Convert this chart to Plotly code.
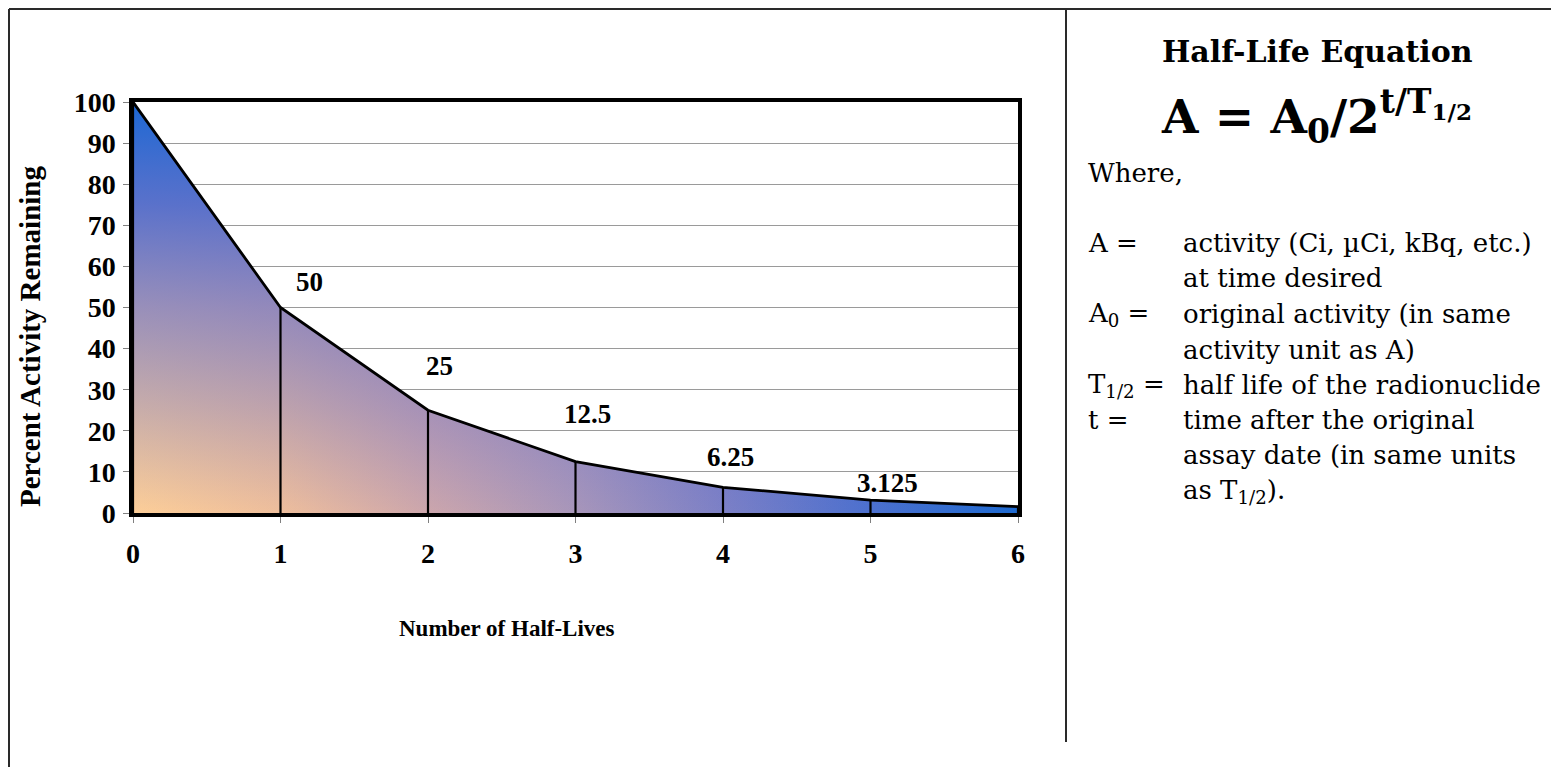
import plotly.graph_objects as go

# ---- data ----
half_lives = [0, 1, 2, 3, 4, 5, 6]
activity = [100, 50, 25, 12.5, 6.25, 3.125, 1.5625]
x_ticks = [0, 1, 2, 3, 4, 5, 6]
y_ticks = [0, 10, 20, 30, 40, 50, 60, 70, 80, 90, 100]
labelled = [1, 2, 3, 4, 5]

# ---- geometry (page shows the figure offset by the 8px body margin) ----
OFF = 8
W, H = 1559 - OFF, 767 - OFF
L, R, T, B = 133 - OFF, 1018 - OFF, 102 - OFF, 513 - OFF


def xp(sx):
    """screen pixel x -> paper"""
    return (sx - OFF - L) / (R - L)


def yp(sy):
    """screen pixel y -> paper"""
    return (B - (sy - OFF)) / (B - T)


SERIF = "Liberation Serif"
BOOK = "DejaVu Serif"

fig = go.Figure()

# base fill: horizontal gradient
fig.add_trace(go.Scatter(
    x=half_lives, y=activity, mode="lines", line=dict(width=0),
    fill="tozeroy",
    fillgradient=dict(type="horizontal", colorscale=[
        [0, "rgb(253,206,152)"], [0.167, "rgb(238,190,156)"],
        [0.333, "rgb(204,166,172)"], [0.5, "rgb(168,150,186)"],
        [0.667, "rgb(124,128,198)"], [0.833, "rgb(76,112,206)"],
        [1, "rgb(30,106,208)"]]),
    hoverinfo="skip", showlegend=False,
))
# overlay fill: vertical gradient with transparency
fig.add_trace(go.Scatter(
    x=half_lives, y=activity, mode="lines", line=dict(width=0),
    fill="tozeroy",
    fillgradient=dict(type="vertical", colorscale=[
        [0, "rgba(80,98,210,0)"], [0.25, "rgba(80,98,210,0.3)"],
        [0.5, "rgba(80,98,210,0.58)"], [0.75, "rgba(66,100,210,0.87)"],
        [1, "rgba(28,104,212,1)"]]),
    hoverinfo="skip", showlegend=False,
))
# curve + drop lines
fig.add_trace(go.Scatter(
    x=half_lives, y=activity, mode="lines",
    line=dict(color="black", width=2.8),
    error_y=dict(type="data", symmetric=False,
                 array=[0 for _ in activity], arrayminus=activity,
                 width=0, thickness=2.2, color="black"),
    showlegend=False,
))

annotations = []
shifts = {1: (29, 26), 2: (11, 44), 3: (12, 48), 4: (7, 30), 5: (17, 17)}
for xv, yv in zip(half_lives, activity):
    if xv in labelled:
        dx, dy = shifts[xv]
        annotations.append(dict(
            x=xv, y=yv, xref="x", yref="y", text=f"{yv:g}", showarrow=False,
            xanchor="center", yanchor="middle", xshift=dx, yshift=dy,
            font=dict(family=SERIF, size=27, color="black", weight="bold"),
        ))


def note(text, sx, sy, size, bold=False, family=BOOK, xanchor="left", angle=0):
    annotations.append(dict(
        x=xp(sx), y=yp(sy), xref="paper", yref="paper", text=text,
        showarrow=False, xanchor=xanchor, yanchor="middle", textangle=angle,
        font=dict(family=family, size=size, color="black",
                  weight="bold" if bold else "normal"),
    ))


# axis titles
note("Percent Activity Remaining", 30, 337, 29, True, SERIF, "center", -90)
note("Number of Half-Lives", 507, 628, 23, True, SERIF, "center")

# right panel
note("Half-Life Equation", 1317, 52, 30, True, BOOK, "center")
note("A = A<sub>0</sub>/2<sup>t/T<sub>1/2</sub></sup>", 1316, 117, 47, True, BOOK, "center")
note("Where,", 1086, 173, 26)
terms = [("A =", 243), ("A<sub>0</sub> =", 314), ("T<sub>1/2</sub> =", 385), ("t =", 420)]
defs = [
    ("activity (Ci, \u00b5Ci, kBq, etc.)", 243),
    ("at time desired", 278),
    ("original activity (in same", 314),
    ("activity unit as A)", 350),
    ("half life of the radionuclide", 385),
    ("time after the original", 420),
    ("assay date (in same units", 455),
    ("as T<sub>1/2</sub>).", 491),
]
for txt, sy in terms:
    note(txt, 1086, sy, 26)
for txt, sy in defs:
    note(txt, 1181, sy, 26)

frame = "#2a2a2a"
shapes = [
    dict(type="line", xref="paper", yref="paper", x0=xp(9), x1=xp(1570),
         y0=yp(9), y1=yp(9), line=dict(color=frame, width=2)),
    dict(type="line", xref="paper", yref="paper", x0=xp(9), x1=xp(9),
         y0=yp(9), y1=yp(780), line=dict(color=frame, width=2)),
    dict(type="line", xref="paper", yref="paper", x0=xp(1066), x1=xp(1066),
         y0=yp(9), y1=yp(742), line=dict(color=frame, width=2)),
]

tickfont = dict(family=SERIF, size=28, color="black", weight="bold")
fig.update_layout(
    width=W, height=H, autosize=False,
    margin=dict(l=L, r=W - R, t=T, b=H - B, pad=0),
    paper_bgcolor="white", plot_bgcolor="white",
    showlegend=False,
    annotations=annotations, shapes=shapes,
    xaxis=dict(range=[0, 6], tickvals=x_ticks, ticktext=[str(v) for v in x_ticks],
               showgrid=False, zeroline=False,
               showline=True, linewidth=3.5, linecolor="black", mirror=True,
               ticks="outside", ticklen=6, tickwidth=1, tickcolor="#808080",
               ticklabelstandoff=7, tickfont=tickfont),
    yaxis=dict(range=[0, 100], tickvals=y_ticks, ticktext=[str(v) for v in y_ticks],
               showgrid=True, gridcolor="#9a9a9a", gridwidth=1.3, zeroline=False,
               showline=True, linewidth=3.5, linecolor="black", mirror=True,
               ticks="outside", ticklen=6, tickwidth=1, tickcolor="#808080",
               ticklabelstandoff=2, tickfont=tickfont),
)

fig.write_html("out.html")
